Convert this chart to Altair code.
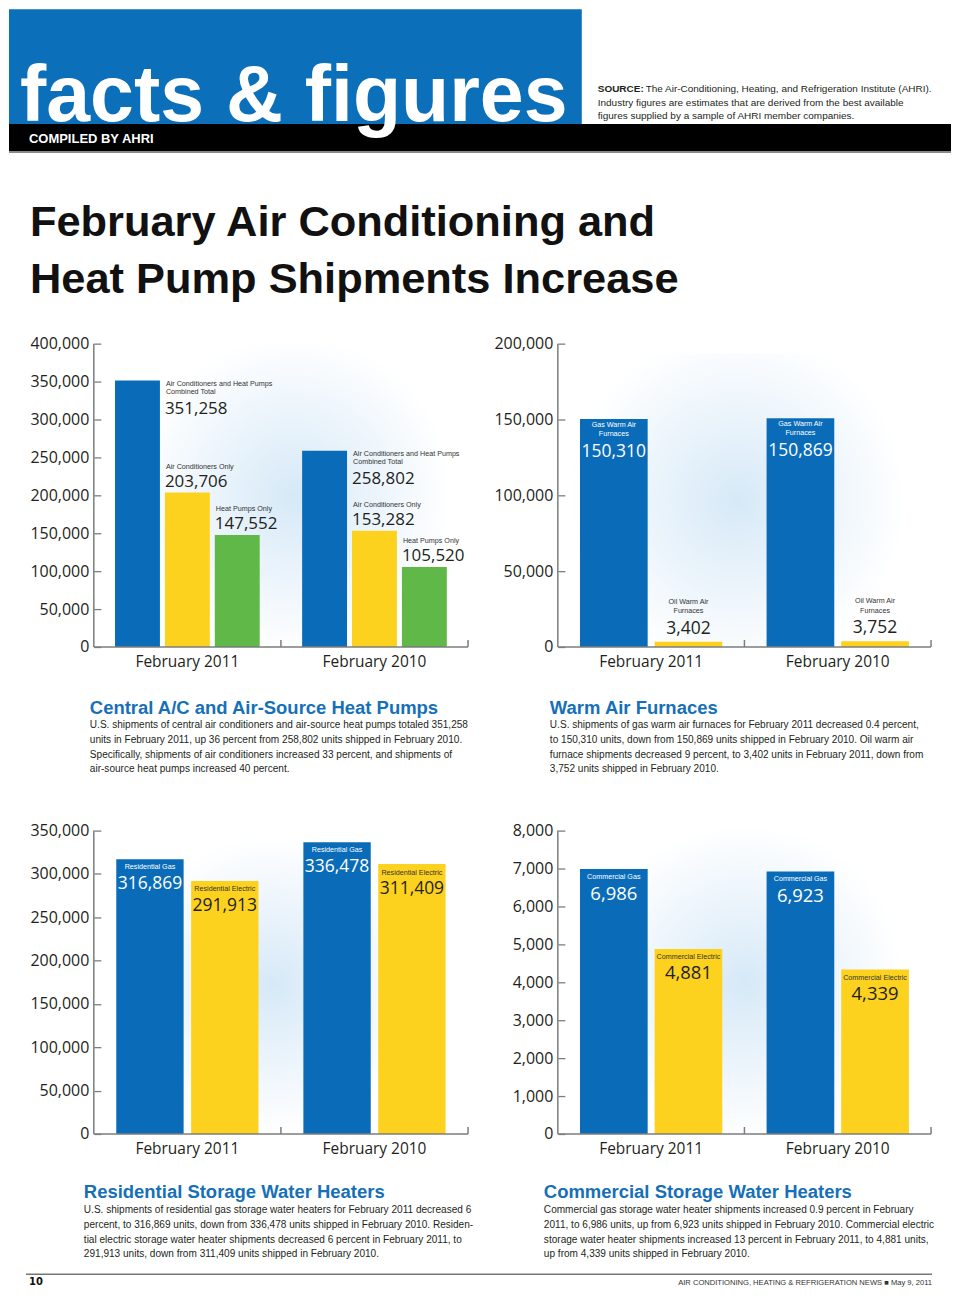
import altair as alt
import pandas as pd

# ---------------- data ----------------
periods = ["February 2011", "February 2010"]

ac_series = ["Air Conditioners and Heat Pumps Combined Total", "Air Conditioners Only", "Heat Pumps Only"]
ac_labels = ["Air Conditioners and Heat Pumps\nCombined Total", "Air Conditioners Only", "Heat Pumps Only"]
ac_2011 = [351258, 203706, 147552]
ac_2010 = [258802, 153282, 105520]
ac_ticks = [0, 50000, 100000, 150000, 200000, 250000, 300000, 350000, 400000]

fur_series = ["Gas Warm Air Furnaces", "Oil Warm Air Furnaces"]
fur_labels = ["Gas Warm Air\nFurnaces", "Oil Warm Air\nFurnaces"]
fur_2011 = [150310, 3402]
fur_2010 = [150869, 3752]
fur_ticks = [0, 50000, 100000, 150000, 200000]

res_series = ["Residential Gas", "Residential Electric"]
res_labels = ["Residential Gas", "Residential Electric"]
res_2011 = [316869, 291913]
res_2010 = [336478, 311409]
res_ticks = [0, 50000, 100000, 150000, 200000, 250000, 300000, 350000]

com_series = ["Commercial Gas", "Commercial Electric"]
com_labels = ["Commercial Gas", "Commercial Electric"]
com_2011 = [6986, 4881]
com_2010 = [6923, 4339]
com_ticks = [0, 1000, 2000, 3000, 4000, 5000, 6000, 7000, 8000]

captions = {
    "ac": ("Central A/C and Air-Source Heat Pumps", [
        "U.S. shipments of central air conditioners and air-source heat pumps totaled 351,258",
        "units in February 2011, up 36 percent from 258,802 units shipped in February 2010.",
        "Specifically, shipments of air conditioners increased 33 percent, and shipments of",
        "air-source heat pumps increased 40 percent."]),
    "fur": ("Warm Air Furnaces", [
        "U.S. shipments of gas warm air furnaces for February 2011 decreased 0.4 percent,",
        "to 150,310 units, down from 150,869 units shipped in February 2010. Oil warm air",
        "furnace shipments decreased 9 percent, to 3,402 units in February 2011, down from",
        "3,752 units shipped in February 2010."]),
    "res": ("Residential Storage Water Heaters", [
        "U.S. shipments of residential gas storage water heaters for February 2011 decreased 6",
        "percent, to 316,869 units, down from 336,478 units shipped in February 2010. Residen-",
        "tial electric storage water heater shipments decreased 6 percent in February 2011, to",
        "291,913 units, down from 311,409 units shipped in February 2010."]),
    "com": ("Commercial Storage Water Heaters", [
        "Commercial gas storage water heater shipments increased 0.9 percent in February",
        "2011, to 6,986 units, up from 6,923 units shipped in February 2010. Commercial electric",
        "storage water heater shipments increased 13 percent in February 2011, to 4,881 units,",
        "up from 4,339 units shipped in February 2010."]),
}

header_title = "facts & figures"
header_sub = "COMPILED BY AHRI"
source_lines = ["The Air-Conditioning, Heating, and Refrigeration Institute (AHRI).",
                "Industry figures are estimates that are derived from the best available",
                "figures supplied by a sample of AHRI member companies."]
page_title = ["February Air Conditioning and", "Heat Pump Shipments Increase"]
footer_left = "10"
footer_right = "AIR CONDITIONING, HEATING & REFRIGERATION NEWS \u25a0 May 9, 2011"

# ---------------- styles ----------------
BLUE = "#0a6cb8"
YELLOW = "#fdd21f"
GREEN = "#5fb848"
AXIS_GRAY = "#7d7d7d"
INK = "#231f20"
HEAD_BLUE = "#1670b8"
NARROW = "'Liberation Sans', Arial, sans-serif"
SANS = "'Open Sans', 'Noto Sans', sans-serif"

ONE = pd.DataFrame({"k": [0]})

# chart-1 plot origin in page coordinates
OX, OY = 93, 343


def frame(series, labels, v2011, v2010):
    rows = []
    for p, vals in zip(periods, [v2011, v2010]):
        for s, l, v in zip(series, labels, vals):
            rows.append({"period": p, "series": s, "label": l, "value": v})
    return pd.DataFrame(rows)


def vrule(x, y, y2, color=AXIS_GRAY, w=1.5):
    return alt.Chart(ONE).mark_rule(color=color, strokeWidth=w).encode(
        x=alt.value(x), y=alt.value(y), y2=alt.value(y2))


def hrule(x, x2, y, color=AXIS_GRAY, w=1.5):
    return alt.Chart(ONE).mark_rule(color=color, strokeWidth=w).encode(
        x=alt.value(x), x2=alt.value(x2), y=alt.value(y))


def panel(df, series, colors, ymax, ticks, W, H, pi, po, glow, labels):
    xs = alt.X("period:N", sort=periods, title=None,
               scale=alt.Scale(paddingInner=0, paddingOuter=0),
               axis=alt.Axis(domain=False, ticks=False, tickSize=0, labelAngle=0,
                             labelFont=SANS, labelFontSize=15.5, labelColor=INK,
                             labelPadding=8, title=None))
    xo = alt.XOffset("series:N", sort=series,
                     scale=alt.Scale(domain=series, paddingInner=pi, paddingOuter=po))
    ys = alt.Y("value:Q", title=None,
               scale=alt.Scale(domain=[0, ymax], nice=False, zero=True),
               axis=alt.Axis(values=ticks, format=",d", domain=False, grid=False,
                             ticks=True, tickSize=7, tickWidth=1.3, tickColor=AXIS_GRAY,
                             offset=-7, labelPadding=5, labelFont=SANS,
                             labelFontSize=16, labelColor=INK, title=None))
    base = alt.Chart(df).encode(x=xs, xOffset=xo, y=ys)

    gx, gy, gw, gh = glow
    glow_rect = alt.Chart(ONE).mark_rect(fill={
        "gradient": "radial",
        "x1": 0.5, "y1": 0.5, "r1": 0, "x2": 0.5, "y2": 0.5, "r2": 0.5,
        "stops": [{"offset": 0, "color": "#d6e9f7"},
                  {"offset": 0.45, "color": "#e9f3fb"},
                  {"offset": 1, "color": "#ffffff"}]}).encode(
        x=alt.value(max(0, gx - gw / 2)), x2=alt.value(min(W, gx + gw / 2)),
        y=alt.value(max(0, gy - gh / 2)), y2=alt.value(min(H, gy + gh / 2)))

    bars = base.mark_bar().encode(
        color=alt.Color("series:N", scale=alt.Scale(domain=series, range=colors), legend=None))

    layers = [glow_rect, bars]
    for sel, kind, props in labels:
        flt = alt.FieldOneOfPredicate(field="series", oneOf=sel)
        if kind == "label":
            lay = base.mark_text(font=NARROW, lineBreak="\n", **props).encode(
                text="label:N").transform_filter(flt)
        else:
            lay = base.mark_text(font=SANS, **props).encode(
                text=alt.Text("value:Q", format=",")).transform_filter(flt)
        layers.append(lay)

    layers += [
        vrule(0, 0, H),
        hrule(0, W, H),
        vrule(W / 2, H - 7, H),
        vrule(W, H - 7, H),
    ]
    return layers


SMALL = 7.2
BIG = 17

# ---------------- chart 1 ----------------
W1, H = 375, 304
df1 = frame(ac_series, ac_labels, ac_2011, ac_2010)
lab1 = [
    ([ac_series[0]], "label", dict(align="left", baseline="top", dx=28.5, dy=-1, fontSize=SMALL, color="#333333", lineHeight=8.5)),
    ([ac_series[0]], "value", dict(align="left", baseline="alphabetic", dx=27.5, dy=33, fontSize=BIG, color=INK)),
    (ac_series[1:], "label", dict(align="left", baseline="alphabetic", dx=-21.5, dy=-24, fontSize=SMALL, color="#333333")),
    (ac_series[1:], "value", dict(align="left", baseline="alphabetic", dx=-22.5, dy=-6, fontSize=BIG, color=INK)),
]
layers1 = panel(df1, ac_series, [BLUE, YELLOW, GREEN], 400000, ac_ticks, W1, H,
                0.1, 0.425, (200, 150, 320, 330), lab1)


# decorative page elements, placed relative to chart-1 origin
def px(x):
    return x - OX


def py(y):
    return y - OY


def txt(s, x, y, size, color=INK, font=NARROW, weight="normal", align="left", baseline="alphabetic"):
    return alt.Chart(ONE).mark_text(text=s, font=font, fontSize=size, fontWeight=weight,
                                    color=color, align=align, baseline=baseline).encode(
        x=alt.value(px(x)), y=alt.value(py(y)))


def rect(x, x2, y, y2, color):
    return alt.Chart(ONE).mark_rect(color=color).encode(
        x=alt.value(px(x)), x2=alt.value(px(x2)), y=alt.value(py(y)), y2=alt.value(py(y2)))


deco = [
    rect(8, 582, 8, 123, "#0b6fba"),
    rect(8, 952, 123, 150, "#000000"),
    alt.Chart(ONE).mark_rule(color="#8a8a8a", strokeWidth=2).encode(
        x=alt.value(px(8)), x2=alt.value(px(952)), y=alt.value(py(151))),
    txt(header_title, 19, 120, 79, color="#ffffff", weight="bold"),
    txt(header_sub, 28, 141.5, 13, color="#ffffff", weight="bold"),
    txt("SOURCE:", 598, 91, 10, weight="bold"),
    txt(source_lines[0], 646, 91, 10),
    txt(source_lines[1], 598, 104.5, 10),
    txt(source_lines[2], 598, 118, 10),
    txt(page_title[0], 29, 235, 43.5, color="#111111", weight="bold"),
    txt(page_title[1], 29, 292, 43.5, color="#111111", weight="bold"),
]

cap_pos = {"ac": (89, 714, 728.5), "fur": (550, 714, 728.5),
           "res": (83, 1199.5, 1214.5), "com": (544, 1199.5, 1214.5)}
for key, (cx, hy, by) in cap_pos.items():
    head, lines = captions[key]
    deco.append(txt(head, cx, hy, 18.5, color=HEAD_BLUE, weight="bold"))
    for i, line in enumerate(lines):
        deco.append(txt(line, cx, by + i * 14.7, 10.1, color=INK))

deco += [
    alt.Chart(ONE).mark_rule(color="#777777", strokeWidth=1.5).encode(
        x=alt.value(px(25)), x2=alt.value(px(933)), y=alt.value(py(1275.5))),
    txt(footer_left, 28, 1286.5, 10, font="'DejaVu Sans', sans-serif", weight="bold", color="#111111"),
    txt(footer_right, 933, 1286, 7.6, align="right", color="#333333"),
]

c1 = alt.layer(*(layers1 + deco)).properties(width=W1, height=H)

# ---------------- chart 2 ----------------
W2 = 374
df2 = frame(fur_series, fur_labels, fur_2011, fur_2010)
lab2 = [
    ([fur_series[0]], "label", dict(align="center", baseline="top", dy=2, fontSize=SMALL, color="#ffffff", lineHeight=9)),
    ([fur_series[0]], "value", dict(align="center", baseline="alphabetic", dy=38, fontSize=BIG + 0.5, color="#ffffff")),
    ([fur_series[1]], "label", dict(align="center", baseline="top", dy=-44, fontSize=SMALL, color="#333333", lineHeight=9.5)),
    ([fur_series[1]], "value", dict(align="center", baseline="alphabetic", dy=-8, fontSize=BIG + 0.5, color=INK)),
]
c2 = alt.layer(*panel(df2, fur_series, [BLUE, YELLOW], 200000, fur_ticks, W2, H,
                      0.093, 0.2967, (180, 175, 340, 330), lab2)).properties(width=W2, height=H)

# ---------------- chart 3 ----------------
df3 = frame(res_series, res_labels, res_2011, res_2010)
lab3 = [
    ([res_series[0]], "label", dict(align="center", baseline="middle", dy=8, fontSize=SMALL, color="#ffffff")),
    ([res_series[0]], "value", dict(align="center", baseline="alphabetic", dy=30, fontSize=BIG + 0.5, color="#ffffff")),
    ([res_series[1]], "label", dict(align="center", baseline="middle", dy=8.5, fontSize=SMALL, color="#333333")),
    ([res_series[1]], "value", dict(align="center", baseline="alphabetic", dy=30, fontSize=BIG + 0.5, color=INK)),
]
c3 = alt.layer(*panel(df3, res_series, [BLUE, YELLOW], 350000, res_ticks, W1, H,
                      0.1, 0.3, (180, 170, 300, 330), lab3)).properties(width=W1, height=H)

# ---------------- chart 4 ----------------
df4 = frame(com_series, com_labels, com_2011, com_2010)
lab4 = [
    ([com_series[0]], "label", dict(align="center", baseline="middle", dy=8, fontSize=SMALL, color="#ffffff")),
    ([com_series[0]], "value", dict(align="center", baseline="alphabetic", dy=30.5, fontSize=BIG + 1.5, color="#ffffff")),
    ([com_series[1]], "label", dict(align="center", baseline="middle", dy=8.5, fontSize=SMALL, color="#333333")),
    ([com_series[1]], "value", dict(align="center", baseline="alphabetic", dy=30.5, fontSize=BIG + 1.5, color=INK)),
]
c4 = alt.layer(*panel(df4, com_series, [BLUE, YELLOW], 8000, com_ticks, W2, H,
                      0.093, 0.2967, (187, 160, 320, 320), lab4)).properties(width=W2, height=H)

chart = alt.concat(c1, c2, c3, c4, columns=2, spacing={"row": 184, "column": 90},
                   bounds="flush").resolve_scale(
    color="independent", xOffset="independent", x="independent", y="independent"
).properties(padding=0, background="#ffffff").configure_view(stroke=None)

chart.save("out.html", embed_options={"renderer": "svg", "actions": False})
